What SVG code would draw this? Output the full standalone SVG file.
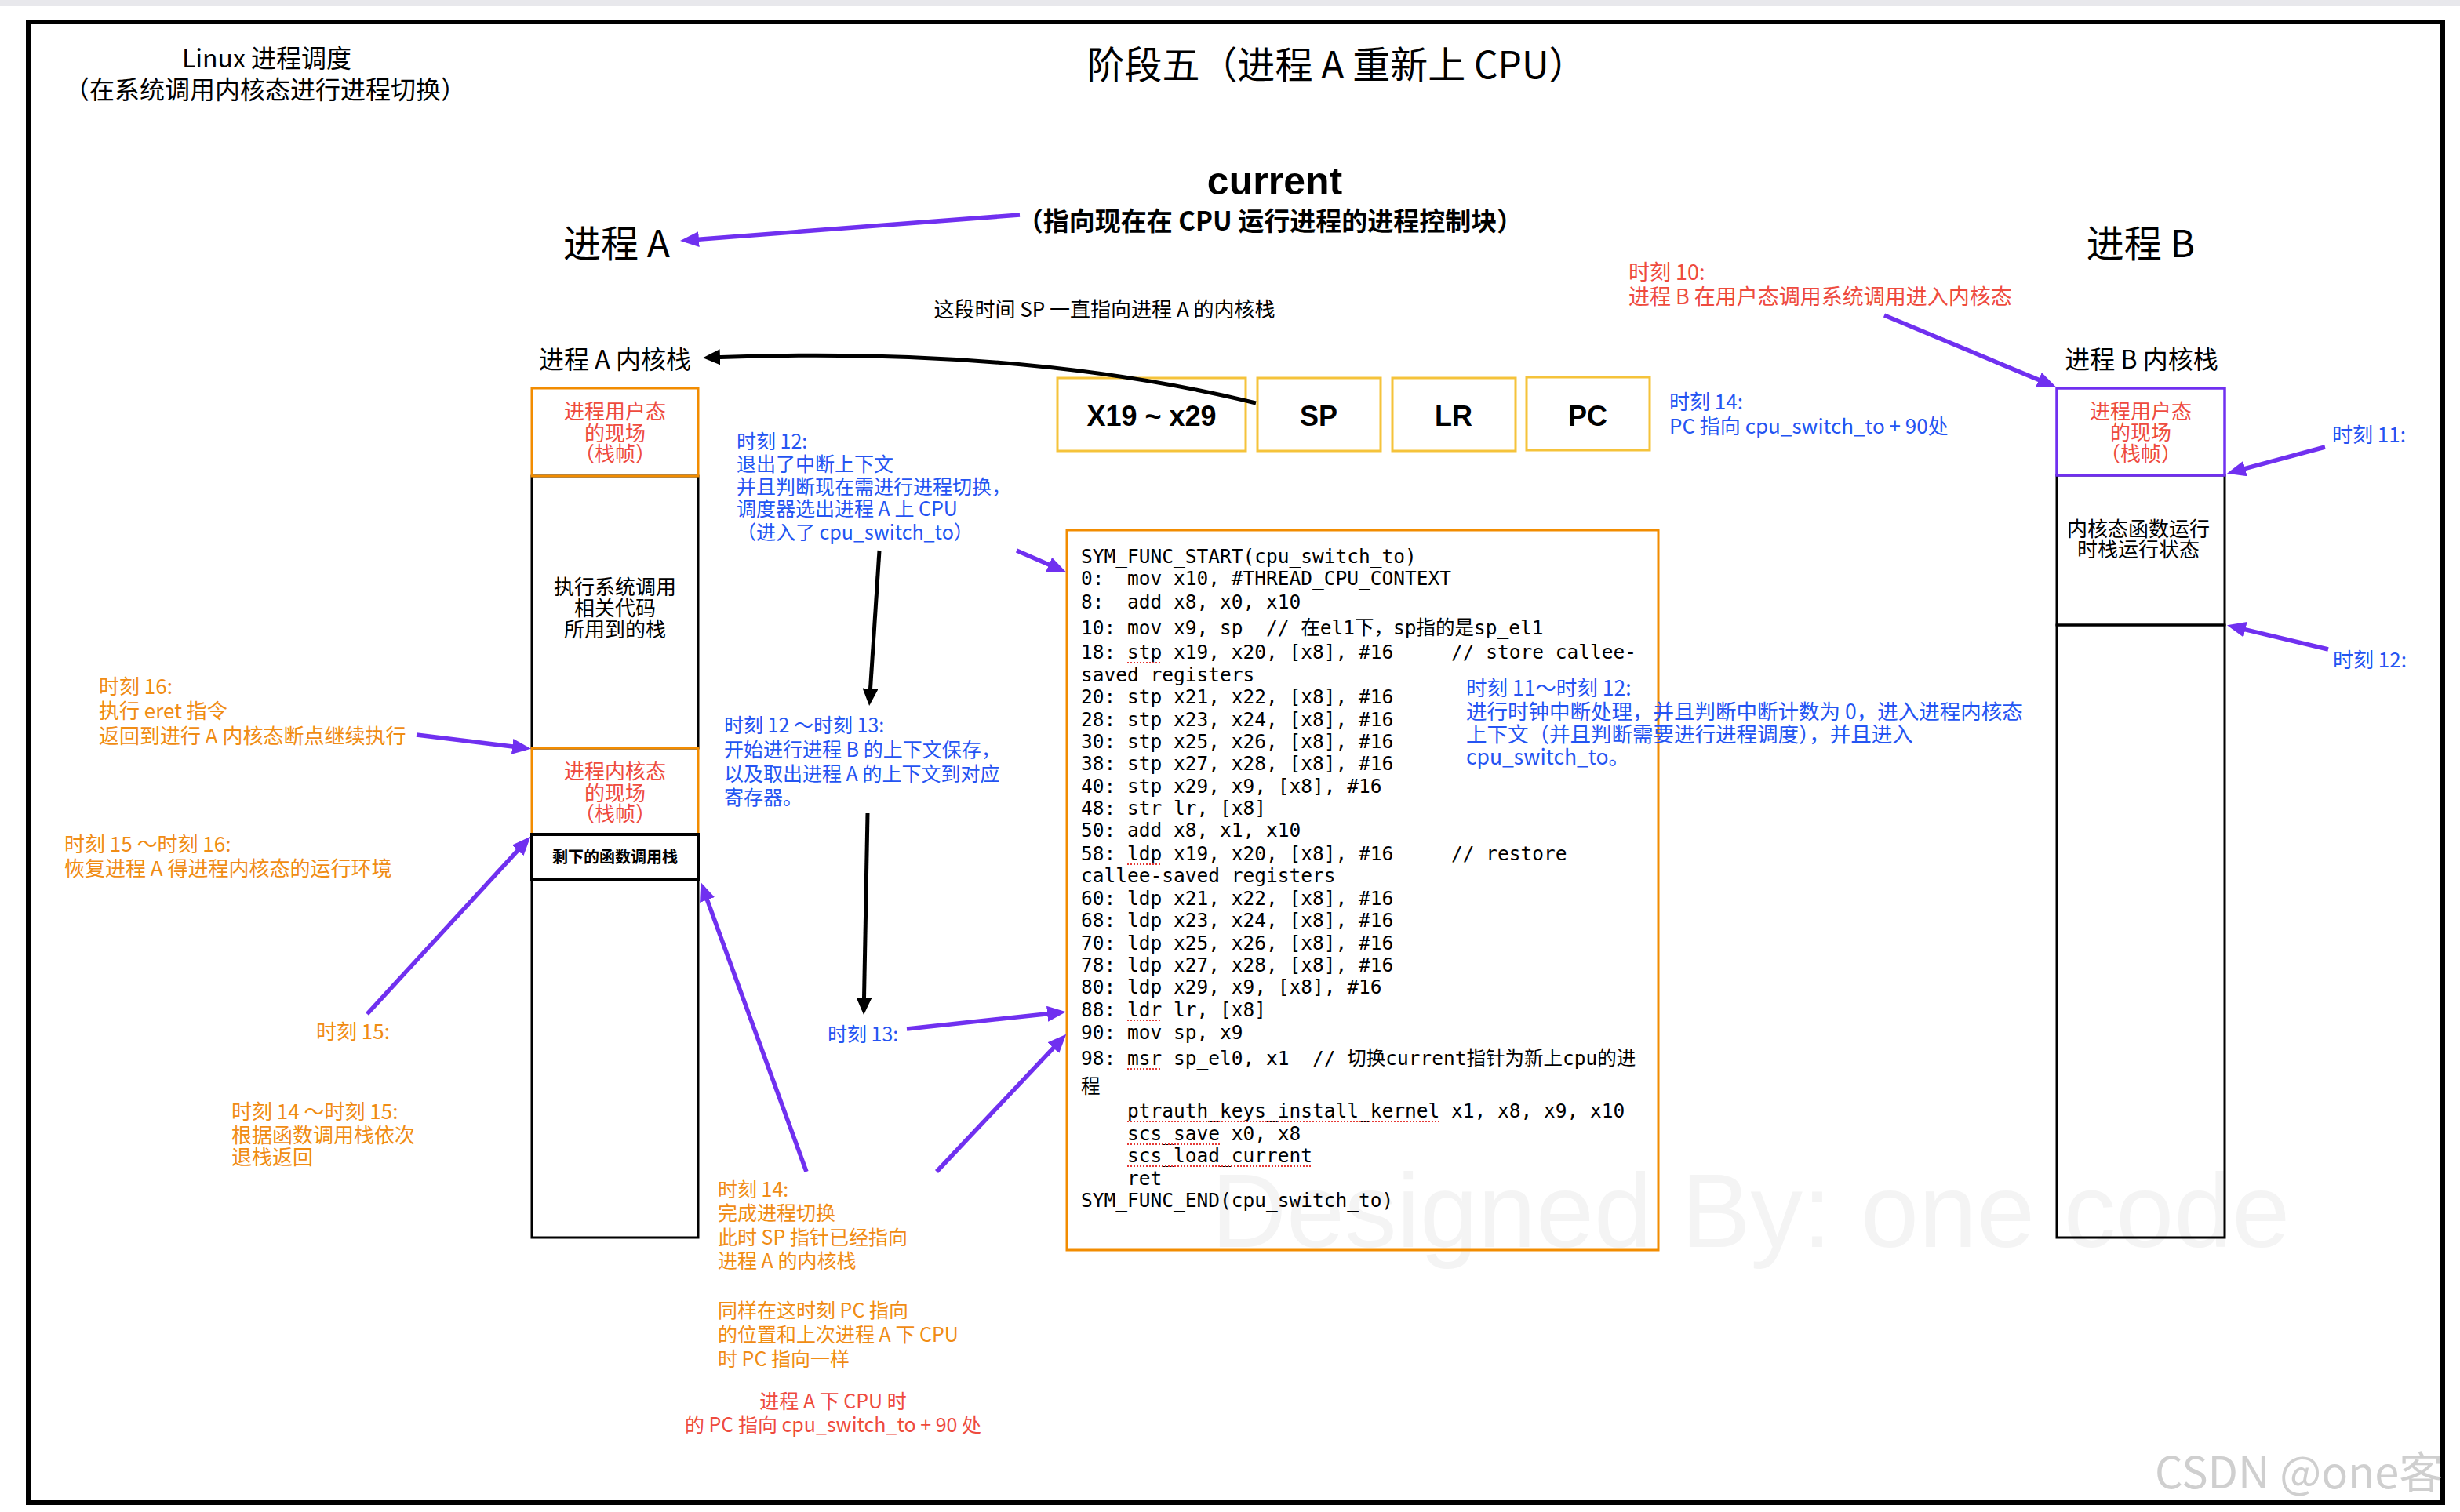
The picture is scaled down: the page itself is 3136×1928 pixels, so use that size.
<svg xmlns="http://www.w3.org/2000/svg" width="3136" height="1928" viewBox="0 0 3136 1928">
<defs>
<style>
.cj{font-family:"Noto Sans CJK SC","Liberation Sans",sans-serif;}
.lat{font-family:"Liberation Sans","Noto Sans CJK SC",sans-serif;}
.mono{font-family:"DejaVu Sans Mono","Noto Sans CJK SC",monospace;font-size:24.5px;fill:#000;white-space:pre;}
.red{fill:#EE4B3E}
.org{fill:#F08C14}
.blu{fill:#2454F2}
.blk{fill:#000}
.pu{stroke:#7030F0;stroke-width:5.5;fill:none;marker-end:url(#ap)}
.bk{stroke:#000;stroke-width:5;fill:none;marker-end:url(#ab)}
.ybox{fill:none;stroke:#F5C33B;stroke-width:3}
.obox{fill:none;stroke:#F28C00;stroke-width:3}
.kbox{fill:none;stroke:#000;stroke-width:3}
.sq{stroke:#E53935;stroke-width:2;stroke-dasharray:2 2}
</style>
<marker id="ap" markerUnits="userSpaceOnUse" markerWidth="24" markerHeight="20" viewBox="0 0 24 20" refX="17" refY="10" orient="auto"><path d="M0,0 L24,10 L0,20 z" fill="#7030F0"/></marker>
<marker id="ab" markerUnits="userSpaceOnUse" markerWidth="22" markerHeight="20" viewBox="0 0 22 20" refX="16" refY="10" orient="auto"><path d="M0,0 L22,10 L0,20 z" fill="#000"/></marker>
</defs>
<rect x="0" y="0" width="3136" height="1928" fill="#fff"/>
<rect x="0" y="0" width="3136" height="8" fill="#e8e8ec"/>
<text class="lat" x="1544" y="1590" font-size="133" fill="#f4f4f4">Designed By: one code</text>
<rect id="frame" x="36" y="28" width="3078" height="1888" fill="none" stroke="#000" stroke-width="6"/>

<g id="titles">
<text class="cj blk" font-size="32" text-anchor="middle" x="340" y="86">Linux 进程调度</text>
<text class="cj blk" font-size="32" text-anchor="middle" x="338" y="126">（在系统调用内核态进行进程切换）</text>
<text class="cj blk" font-size="48" text-anchor="middle" x="1704" y="100">阶段五（进程 A 重新上 CPU）</text>
</g>

<g id="current">
<text class="lat blk" font-size="50" font-weight="bold" text-anchor="middle" x="1625" y="248">current</text>
<text class="cj blk" font-size="33" font-weight="bold" text-anchor="middle" x="1619" y="294">（指向现在在 CPU 运行进程的进程控制块）</text>
</g>

<g id="procA-label"><text class="cj blk" font-size="48" text-anchor="middle" x="786" y="328">进程 A</text></g>
<g id="procB-label"><text class="cj blk" font-size="48" text-anchor="middle" x="2729" y="328">进程 B</text></g>
<g id="sp-note"><text class="cj blk" font-size="26" text-anchor="middle" x="1408" y="404">这段时间 SP 一直指向进程 A 的内核栈</text></g>

<g id="stackA">
<text class="cj blk" font-size="32" text-anchor="middle" x="784" y="470">进程 A 内核栈</text>
<rect class="kbox" x="678" y="607" width="212" height="347"/>
<rect class="kbox" x="678" y="1121" width="212" height="457"/>
<rect class="obox" x="678" y="495" width="212" height="112"/>
<rect class="obox" x="678" y="954" width="212" height="110"/>
<rect x="678" y="1064" width="212" height="57" fill="none" stroke="#000" stroke-width="4"/>
<text class="cj red" font-size="26" text-anchor="middle" x="784"><tspan x="784" y="534">进程用户态</tspan><tspan x="784" y="562">的现场</tspan><tspan x="784" y="588">（栈帧）</tspan></text>
<text class="cj blk" font-size="26" text-anchor="middle" x="784"><tspan x="784" y="758">执行系统调用</tspan><tspan x="784" y="785">相关代码</tspan><tspan x="784" y="812">所用到的栈</tspan></text>
<text class="cj red" font-size="26" text-anchor="middle" x="784"><tspan x="784" y="993">进程内核态</tspan><tspan x="784" y="1021">的现场</tspan><tspan x="784" y="1047">（栈帧）</tspan></text>
<text class="cj blk" font-size="20" font-weight="bold" text-anchor="middle" x="784" y="1100">剩下的函数调用栈</text>
</g>

<g id="stackB">
<text class="cj blk" font-size="32" text-anchor="middle" x="2730" y="470">进程 B 内核栈</text>
<rect class="kbox" x="2622" y="606" width="214" height="191"/>
<rect class="kbox" x="2622" y="797" width="214" height="781"/>
<rect x="2622" y="495" width="214" height="111" fill="none" stroke="#7030F0" stroke-width="3.5"/>
<text class="cj red" font-size="26" text-anchor="middle" x="2729"><tspan x="2729" y="534">进程用户态</tspan><tspan x="2729" y="561">的现场</tspan><tspan x="2729" y="588">（栈帧）</tspan></text>
<text class="cj blk" font-size="26" text-anchor="middle" x="2726"><tspan x="2726" y="684">内核态函数运行</tspan><tspan x="2726" y="710">时栈运行状态</tspan></text>
</g>

<g id="registers">
<rect class="ybox" x="1348" y="482" width="240" height="93"/>
<rect class="ybox" x="1603" y="482" width="157" height="93"/>
<rect class="ybox" x="1775" y="482" width="157" height="93"/>
<rect class="ybox" x="1946" y="481" width="157" height="93"/>
<text class="lat blk" font-size="36" font-weight="bold" text-anchor="middle" x="1468" y="543">X19 ~ x29</text>
<text class="lat blk" font-size="36" font-weight="bold" text-anchor="middle" x="1681" y="543">SP</text>
<text class="lat blk" font-size="36" font-weight="bold" text-anchor="middle" x="1853" y="543">LR</text>
<text class="lat blk" font-size="36" font-weight="bold" text-anchor="middle" x="2024" y="543">PC</text>
</g>

<g id="code">
<rect class="obox" x="1360" y="676" width="754" height="918"/>
<text class="mono" xml:space="preserve"><tspan x="1378" y="718">SYM_FUNC_START(cpu_switch_to)</tspan><tspan x="1378" y="746">0:  mov x10, #THREAD_CPU_CONTEXT</tspan><tspan x="1378" y="776">8:  add x8, x0, x10</tspan><tspan x="1378" y="809">10: mov x9, sp  // 在el1下，sp指的是sp_el1</tspan><tspan x="1378" y="840">18: stp x19, x20, [x8], #16     // store callee-</tspan><tspan x="1378" y="869">saved registers</tspan><tspan x="1378" y="897">20: stp x21, x22, [x8], #16</tspan><tspan x="1378" y="926">28: stp x23, x24, [x8], #16</tspan><tspan x="1378" y="954">30: stp x25, x26, [x8], #16</tspan><tspan x="1378" y="982">38: stp x27, x28, [x8], #16</tspan><tspan x="1378" y="1011">40: stp x29, x9, [x8], #16</tspan><tspan x="1378" y="1039">48: str lr, [x8]</tspan><tspan x="1378" y="1067">50: add x8, x1, x10</tspan><tspan x="1378" y="1097">58: ldp x19, x20, [x8], #16     // restore</tspan><tspan x="1378" y="1125">callee-saved registers</tspan><tspan x="1378" y="1154">60: ldp x21, x22, [x8], #16</tspan><tspan x="1378" y="1182">68: ldp x23, x24, [x8], #16</tspan><tspan x="1378" y="1211">70: ldp x25, x26, [x8], #16</tspan><tspan x="1378" y="1239">78: ldp x27, x28, [x8], #16</tspan><tspan x="1378" y="1267">80: ldp x29, x9, [x8], #16</tspan><tspan x="1378" y="1296">88: ldr lr, [x8]</tspan><tspan x="1378" y="1325">90: mov sp, x9</tspan><tspan x="1378" y="1358">98: msr sp_el0, x1  // 切换current指针为新上cpu的进</tspan><tspan x="1378" y="1394">程</tspan><tspan x="1378" y="1425">    ptrauth_keys_install_kernel x1, x8, x9, x10</tspan><tspan x="1378" y="1454">    scs_save x0, x8</tspan><tspan x="1378" y="1482">    scs_load_current</tspan><tspan x="1378" y="1511">    ret</tspan><tspan x="1378" y="1539">SYM_FUNC_END(cpu_switch_to)</tspan></text>
<line class="sq" x1="1437" y1="845" x2="1481" y2="845"/>
<line class="sq" x1="1437" y1="1102" x2="1481" y2="1102"/>
<line class="sq" x1="1437" y1="1301" x2="1481" y2="1301"/>
<line class="sq" x1="1437" y1="1363" x2="1481" y2="1363"/>
<line class="sq" x1="1437" y1="1430" x2="1835" y2="1430"/>
<line class="sq" x1="1437" y1="1459" x2="1555" y2="1459"/>
<line class="sq" x1="1437" y1="1487" x2="1673" y2="1487"/>
</g>

<g id="annotations">
<text class="cj blu" font-size="26" x="2128"><tspan x="2128" y="522">时刻 14:</tspan><tspan x="2128" y="553">PC 指向 cpu_switch_to +  90处</tspan></text>
<text class="cj red" font-size="27" x="2076"><tspan x="2076" y="357">时刻 10:</tspan><tspan x="2076" y="388">进程 B 在用户态调用系统调用进入内核态</tspan></text>
<text class="cj blu" font-size="26" x="2973" y="564">时刻 11:</text>
<text class="cj blu" font-size="26" x="2974" y="851">时刻 12:</text>
<text class="cj blu" font-size="26.5" x="1869"><tspan x="1869" y="887">时刻 11～时刻 12:</tspan><tspan x="1869" y="917">进行时钟中断处理，并且判断中断计数为 0，进入进程内核态</tspan><tspan x="1869" y="946">上下文（并且判断需要进行进程调度），并且进入</tspan><tspan x="1869" y="975">cpu_switch_to。</tspan></text>
<text class="cj blu" font-size="25" x="939"><tspan x="939" y="572">时刻 12:</tspan><tspan x="939" y="601">退出了中断上下文</tspan><tspan x="939" y="630">并且判断现在需进行进程切换，</tspan><tspan x="939" y="658">调度器选出进程 A 上 CPU</tspan><tspan x="939" y="688">（进入了 cpu_switch_to）</tspan></text>
<text class="cj blu" font-size="25" x="923"><tspan x="923" y="934">时刻 12 ～时刻 13:</tspan><tspan x="923" y="965">开始进行进程 B 的上下文保存，</tspan><tspan x="923" y="996">以及取出进程 A 的上下文到对应</tspan><tspan x="923" y="1026">寄存器。</tspan></text>
<text class="cj blu" font-size="25" x="1055" y="1328">时刻 13:</text>
<text class="cj org" font-size="25" x="915"><tspan x="915" y="1526">时刻 14:</tspan><tspan x="915" y="1556">完成进程切换</tspan><tspan x="915" y="1587">此时 SP 指针已经指向</tspan><tspan x="915" y="1617">进程 A 的内核栈</tspan><tspan x="915" y="1680">同样在这时刻 PC 指向</tspan><tspan x="915" y="1711">的位置和上次进程 A 下 CPU</tspan><tspan x="915" y="1742">时 PC 指向一样</tspan></text>
<text class="cj red" font-size="25" text-anchor="middle" x="1062"><tspan x="1062" y="1796">进程 A 下 CPU 时</tspan><tspan x="1062" y="1826">的 PC 指向 cpu_switch_to + 90 处</tspan></text>
<text class="cj org" font-size="26" x="126"><tspan x="126" y="885">时刻 16:</tspan><tspan x="126" y="916">执行 eret 指令</tspan><tspan x="126" y="948">返回到进行 A 内核态断点继续执行</tspan></text>
<text class="cj org" font-size="26" x="82"><tspan x="82" y="1086">时刻 15 ～时刻 16:</tspan><tspan x="82" y="1117">恢复进程 A 得进程内核态的运行环境</tspan></text>
<text class="cj org" font-size="26" x="403" y="1325">时刻 15:</text>
<text class="cj org" font-size="26" x="295"><tspan x="295" y="1427">时刻 14 ～时刻 15:</tspan><tspan x="295" y="1457">根据函数调用栈依次</tspan><tspan x="295" y="1485">退栈返回</tspan></text>
</g>

<g id="connectors">
<line class="pu" x1="1300" y1="274" x2="874" y2="306.4"/>
<line class="pu" x1="2402" y1="402" x2="2614.6" y2="490.9"/>
<line class="pu" x1="2964" y1="570" x2="2845.7" y2="601.9"/>
<line class="pu" x1="2968" y1="828" x2="2845.8" y2="798.9"/>
<line class="pu" x1="1296" y1="702" x2="1352.7" y2="726.8"/>
<line class="pu" x1="1156" y1="1312" x2="1352" y2="1290.9"/>
<line class="pu" x1="1194" y1="1494" x2="1354.5" y2="1323.8"/>
<line class="pu" x1="1028" y1="1494" x2="895.7" y2="1131.5"/>
<line class="pu" x1="468" y1="1293" x2="671.6" y2="1071.9"/>
<line class="pu" x1="531" y1="937" x2="670" y2="954"/>
<line class="bk" x1="1121" y1="702" x2="1108.5" y2="894"/>
<line class="bk" x1="1106" y1="1037" x2="1101.2" y2="1288"/>
<path class="bk" d="M1601,514 Q1300,440 902,456"/>
</g>

<text class="cj" x="2747" y="1898" font-size="56" fill="#cfcfcf">CSDN @one客</text>
</svg>
